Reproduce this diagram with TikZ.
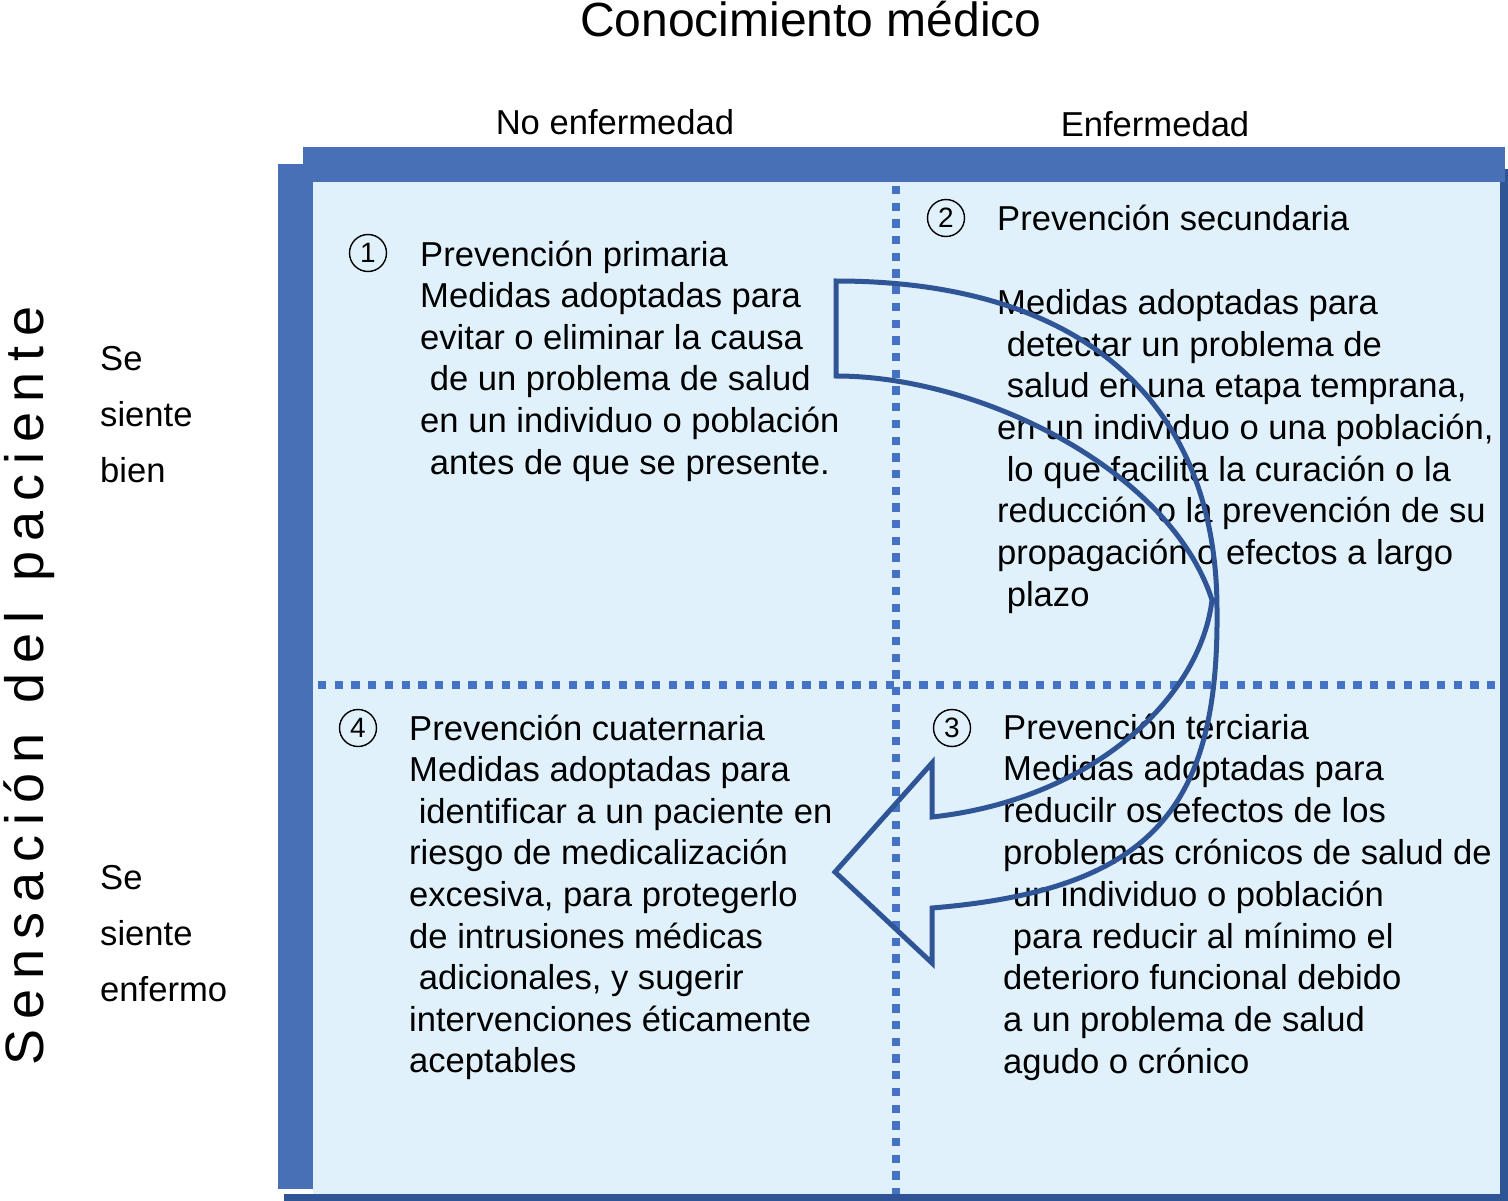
\documentclass[tikz,border=0pt]{standalone}
\usepackage{fontspec}
\setmainfont{Liberation Sans}
\definecolor{band}{RGB}{72,112,182}
\definecolor{darkband}{RGB}{47,85,151}
\definecolor{paper}{RGB}{224,241,251}
\definecolor{dotline}{RGB}{68,114,196}
\definecolor{arrowc}{RGB}{47,85,151}
\newcommand\lsp{\hspace*{9.6pt}}
\tikzset{
  txt/.style={inner sep=0pt, anchor=base west, font=\fontsize{34.6}{41.7}\selectfont},
  head/.style={inner sep=0pt, anchor=base, font=\fontsize{34.6}{41.7}\selectfont},
  num/.style={circle, draw, line width=1.4pt, minimum size=37pt, inner sep=0pt, font=\fontsize{28}{30}\selectfont},
  grid/.style={dotline, line width=7.5pt, dash pattern=on 8.3pt off 8.4pt},
  bigarrow/.style={arrowc, line width=5pt, line join=miter}
}
\begin{document}
\begin{tikzpicture}[x=1pt,y=-1pt]
\useasboundingbox (0,0) rectangle (1508,1201);
% frame
\fill[darkband] (284,1194) rectangle (1508,1201);
\fill[darkband] (1500,169) rectangle (1508,1201);
\fill[paper] (313,182) rectangle (1500,1194);
\fill[band] (303,147) rectangle (1505,182);
\fill[band] (278,164) rectangle (313,1189);
% grid lines
\coordinate (vt) at (896,186);
\coordinate (vb) at (896,1194);
\coordinate (hl) at (318,685);
\coordinate (hr) at (1500,685);
\draw[grid] (vt) -- (vb);
\draw[grid] (hl) -- (hr);
% titles
\node[inner sep=0pt, anchor=base, font=\fontsize{48}{58}\selectfont] (title) at (811,37) {Conocimiento médico};
\node[head] (colA) at (615,135) {No enfermedad};
\node[head] (colB) at (1155,137) {Enfermedad};
\node[inner sep=0pt, rotate=90, anchor=base, font=\fontsize{54}{60}\selectfont] (side) at (43,686)
  {\spaceskip=10pt S e n s a c i ó n\hspace{20pt} d e l\hspace{20pt} p a c i e n t e};
% row labels
\node[txt] (r1a) at (100,370) {Se};
\node[txt] (r1b) at (100,426) {siente};
\node[txt] (r1c) at (100,482) {bien};
\node[txt] (r2a) at (100,889) {Se};
\node[txt] (r2b) at (100,945) {siente};
\node[txt] (r2c) at (100,1001) {enfermo};
% numbers
\node[num] (n1) at (368,253) {1};
\node[num] (n2) at (946,218) {2};
\node[num] (n3) at (952,728) {3};
\node[num] (n4) at (358,728) {4};
% quadrant 1
\foreach \n/\t in {0/{Prevención primaria}, 1/{Medidas adoptadas para}, 2/{evitar o eliminar la causa}, 3/{\lsp de un problema de salud}, 4/{en un individuo o población}, 5/{\lsp antes de que se presente.}}
  \node[txt] (qa\n) at ({420},{266+41.6*\n}) {\t};
% quadrant 2
\foreach \n/\t in {0/{Prevención secundaria}, 2/{Medidas adoptadas para}, 3/{\lsp detectar un problema de}, 4/{\lsp salud en una etapa temprana,}, 5/{en un individuo o una población,}, 6/{\lsp lo que facilita la curación o la}, 7/{reducción o la prevención de su}, 8/{propagación o efectos a largo}, 9/{\lsp plazo}}
  \node[txt] (qb\n) at ({997},{231+41.7*\n}) {\t};
% quadrant 3
\foreach \n/\t in {0/{Prevención terciaria}, 1/{Medidas adoptadas para}, 2/{reducilr os efectos de los}, 3/{problemas crónicos de salud de}, 4/{\lsp un individuo o población}, 5/{\lsp para reducir al mínimo el}, 6/{deterioro funcional debido}, 7/{a un problema de salud}, 8/{agudo o crónico}}
  \node[txt] (qc\n) at ({1003},{739+41.8*\n}) {\t};
% quadrant 4
\foreach \n/\t in {0/{Prevención cuaternaria}, 1/{Medidas adoptadas para}, 2/{\lsp identificar a un paciente en}, 3/{riesgo de medicalización}, 4/{excesiva, para protegerlo}, 5/{de intrusiones médicas}, 6/{\lsp adicionales, y sugerir}, 7/{intervenciones éticamente}, 8/{aceptables}}
  \node[txt] (qd\n) at ({409},{740+41.6*\n}) {\t};
% curved arrow
\draw[bigarrow] (836,281) .. controls (1080,281) and (1217,400) .. (1217,610)
  .. controls (1219,810) and (1150,890) .. (932,908)
  -- (932,963) -- (835,872) -- (932,763) -- (932,817)
  .. controls (1090,800) and (1200,700) .. (1212,600)
  .. controls (1170,470) and (980,376) .. (836,376) -- cycle;
\end{tikzpicture}
\end{document}
